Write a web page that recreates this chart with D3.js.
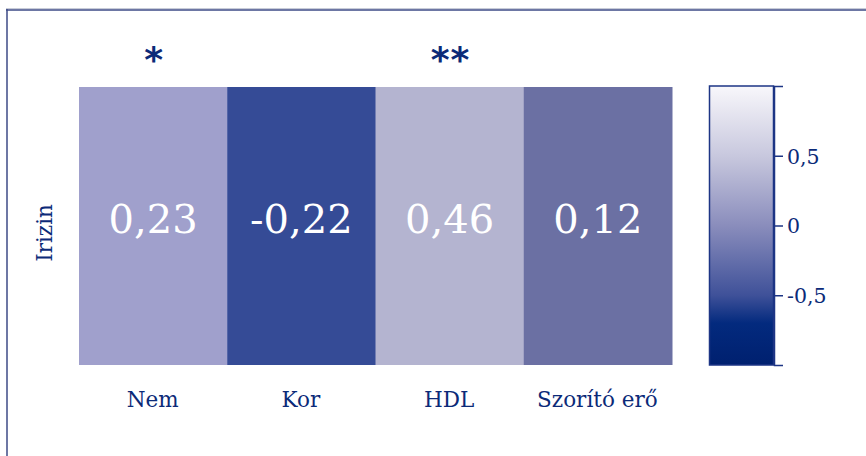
<!DOCTYPE html>
<html><head><meta charset="utf-8">
<script src="https://cdn.jsdelivr.net/npm/d3@7"></script>
<style>body{margin:0;background:#fff}svg{display:block}</style>
</head><body><svg id="c" width="866" height="456"></svg>
<script>
const categories = ["Nem", "Kor", "HDL", "Szorító erő"];
const values = [0.23, -0.22, 0.46, 0.12];
const valueLabels = ["0,23", "-0,22", "0,46", "0,12"];
const significance = ["*", "", "**", ""];
const rowLabel = "Irizin";
const legendTicks = [0.5, 0, -0.5];
const legendTickLabels = ["0,5", "0", "-0,5"];
const cellStops = [-1, -0.75, -0.22, 0.12, 0.23, 0.46, 1];
const cellColors = ["#00216f", "#062c80", "#354b96", "#6b70a3", "#a0a0cc", "#b4b4d0", "#f7f6fb"];
const legendStops = [-1, -0.7, -0.5, 0, 0.5, 1];
const legendColors = ["#00206f", "#032a7e", "#3f5199", "#8a8dbc", "#c8c8de", "#f8f7fb"];

const svg = d3.select("#c");
const navy = "#0b2a78";
const serif = "'DejaVu Serif', serif";

// frame
svg.append("line").attr("x1",6).attr("x2",866).attr("y1",8.5).attr("y2",8.5).attr("stroke","#c8ccd8").attr("stroke-width",1);
svg.append("line").attr("x1",6).attr("x2",866).attr("y1",10).attr("y2",10).attr("stroke","#3c4a86").attr("stroke-width",1.5);
svg.append("line").attr("x1",7).attr("x2",7).attr("y1",9).attr("y2",456).attr("stroke","#3c4a86").attr("stroke-width",1.5);

const x = d3.scaleBand().domain(categories).range([79, 672]).padding(0);
const y = d3.scaleBand().domain([rowLabel]).range([87, 365]);
const color = d3.scaleLinear().domain(cellStops).range(cellColors);

const cells = svg.append("g");
cells.selectAll("rect").data(categories).join("rect")
  .attr("x", d => x(d)).attr("y", y(rowLabel))
  .attr("width", x.bandwidth()+0.5).attr("height", y.bandwidth())
  .attr("fill", (d,i) => color(values[i]));
cells.selectAll("text.v").data(categories).join("text").attr("class","v")
  .attr("x", d => x(d) + x.bandwidth()/2).attr("y", y(rowLabel) + y.bandwidth()/2 - 7)
  .attr("dy","0.36em").attr("text-anchor","middle")
  .attr("font-family", serif).attr("font-size", 40).attr("fill","#fff")
  .text((d,i) => valueLabels[i]);
cells.selectAll("text.s").data(categories).join("text").attr("class","s")
  .attr("x", d => x(d) + x.bandwidth()/2 + 1).attr("y", 72)
  .attr("text-anchor","middle")
  .attr("font-family","'DejaVu Sans', sans-serif").attr("font-weight","bold")
  .attr("font-size", 36).attr("letter-spacing", 1).attr("fill", navy)
  .text((d,i) => significance[i]);

// x labels
svg.append("g").selectAll("text").data(categories).join("text")
  .attr("x", d => x(d) + x.bandwidth()/2 - 0.5).attr("y", 407)
  .attr("text-anchor","middle").attr("font-family", serif).attr("font-size", 21.5)
  .attr("fill", navy).text(d => d);

// y label
svg.append("text").attr("transform", `translate(52,${y(rowLabel)+y.bandwidth()/2 + 7}) rotate(-90)`)
  .attr("text-anchor","middle").attr("font-family", serif).attr("font-size", 21.5)
  .attr("fill", navy).text(rowLabel);

// legend
const ly = d3.scaleLinear().domain([-1, 1]).range([365, 86]);
const defs = svg.append("defs");
const grad = defs.append("linearGradient").attr("id","g").attr("x1",0).attr("x2",0).attr("y1",1).attr("y2",0);
grad.selectAll("stop").data(legendStops).join("stop")
  .attr("offset", d => (d+1)/2).attr("stop-color", (d,i) => legendColors[i]);
svg.append("rect").attr("x",709.5).attr("y",ly(1)).attr("width",64).attr("height",ly(-1)-ly(1))
  .attr("fill","url(#g)").attr("stroke","#1d3585").attr("stroke-width",1.5);
const axis = d3.axisRight(ly).tickValues(legendTicks).tickSize(9).tickSizeOuter(9)
  .tickFormat((d,i) => legendTickLabels[i]);
const ag = svg.append("g").attr("transform","translate(774,0)").call(axis);
ag.select(".domain").attr("stroke","#1d3585").attr("stroke-width",1.5);
ag.selectAll(".tick line").attr("stroke","#1d3585").attr("stroke-width",1.5);
ag.selectAll(".tick text").attr("font-family", serif).attr("font-size", 20.5)
  .attr("fill", navy).attr("x", 13).attr("dy","0.36em");
</script></body></html>
